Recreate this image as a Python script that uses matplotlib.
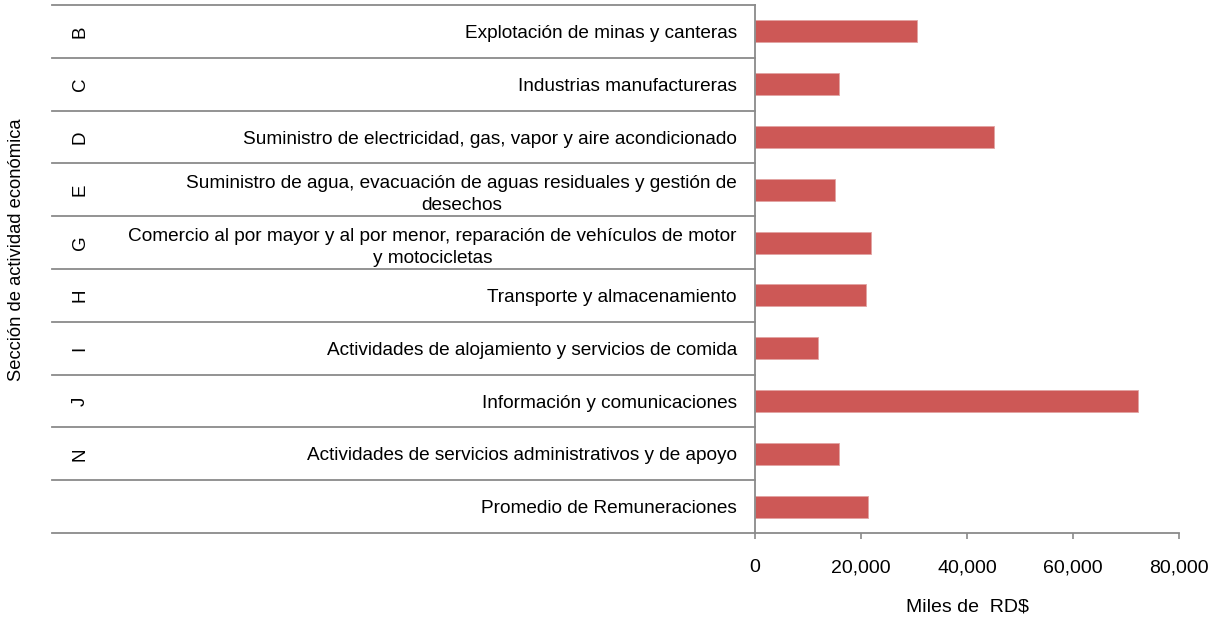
import matplotlib
matplotlib.use("Agg")
import matplotlib.pyplot as plt
from matplotlib.transforms import blended_transform_factory
from matplotlib.lines import Line2D

plt.rcParams['font.family'] = ['Liberation Sans', 'DejaVu Sans']

sections = ["B", "C", "D", "E", "G", "H", "I", "J", "N", ""]
activities = [
    "Explotación de minas y canteras",
    "Industrias manufactureras",
    "Suministro de electricidad, gas, vapor y aire acondicionado",
    "Suministro de agua, evacuación de aguas residuales y gestión de\ndesechos",
    "Comercio al por mayor y al por menor, reparación de vehículos de motor\ny motocicletas",
    "Transporte y almacenamiento",
    "Actividades de alojamiento y servicios de comida",
    "Información y comunicaciones",
    "Actividades de servicios administrativos y de apoyo",
    "Promedio de Remuneraciones",
]
values = [30600, 15800, 45000, 15100, 21900, 20950, 11950, 72300, 15800, 21300]
xticks = [0, 20000, 40000, 60000, 80000]
xticklabels = ["0", "20,000", "40,000", "60,000", "80,000"]

W, H = 1215, 621
fig = plt.figure(figsize=(W / 100, H / 100), dpi=100)
L, R, T, B = 755, 1179, 5, 533
ax = fig.add_axes([L / W, 1 - B / H, (R - L) / W, (B - T) / H])

gray = "#8a8a8a"
bar_color = "#CD5856"
n = len(activities)
ypos = list(range(n))
ax.barh(ypos, values, height=0.42, color=bar_color, edgecolor="#e2a3a2", linewidth=0.6)
ax.set_ylim(n - 0.5, -0.5)
ax.set_xlim(0, 80000)

ax.set_yticks(ypos, labels=activities, fontsize=13.7)
ax.tick_params(axis="y", length=0, pad=13)
for lab in ax.get_yticklabels():
    lab.set_multialignment("center")
    lab.set_linespacing(1.4)

ax.set_xticks(xticks, labels=xticklabels, fontsize=14)
ax.tick_params(axis="x", length=4, width=1.2, color=gray, pad=15)

for s in ["top", "right"]:
    ax.spines[s].set_visible(False)
for s in ["left", "bottom"]:
    ax.spines[s].set_color(gray)
    ax.spines[s].set_linewidth(1.3)

ax.set_xlabel("Miles de  RD$", fontsize=14, labelpad=16)

# row separators extending to the left of the axes
tr = blended_transform_factory(fig.transFigure, ax.transData)
for b in [i - 0.5 for i in range(n + 1)]:
    fig.add_artist(Line2D([52 / W, L / W], [b, b], transform=tr, color=gray, lw=1.3))

# section letters
for y, s in zip(ypos, sections):
    if s:
        t = fig.text(80 / W, 0, s, transform=tr, rotation=90, ha="center", va="center", fontsize=13.5)
        t.set_y(y)

fig.text(17 / W, 1 - 250 / H, "Sección de actividad económica", rotation=90,
         ha="center", va="center", fontsize=13.2)

fig.savefig("out.png", dpi=100)
